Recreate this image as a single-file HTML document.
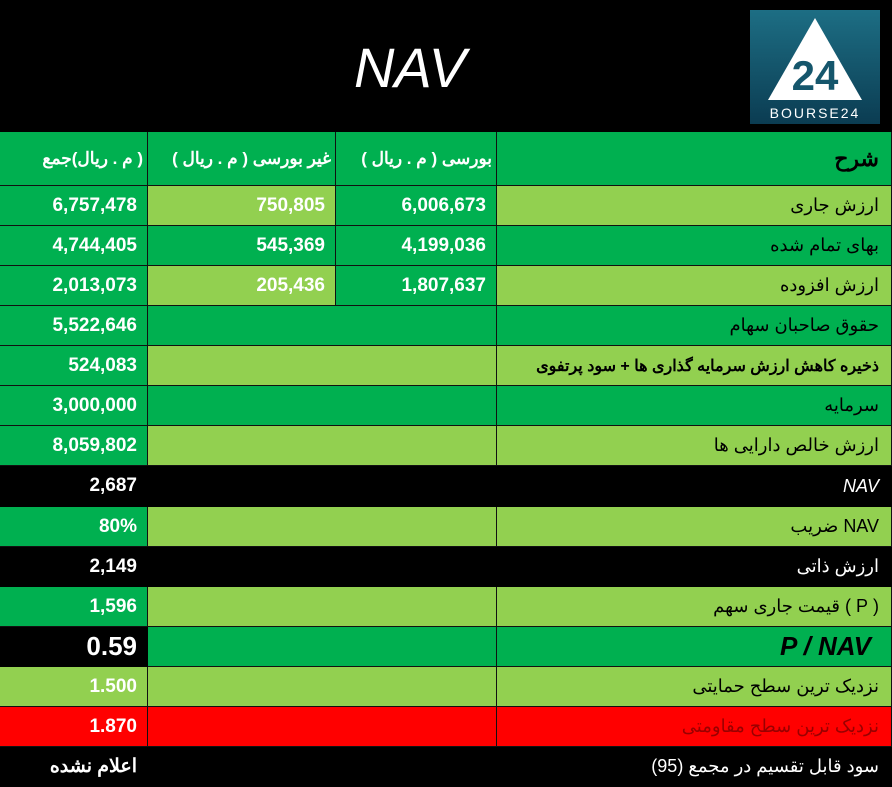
<!DOCTYPE html>
<html><head><meta charset="utf-8"><style>
body{margin:0;width:892px;height:787px;background:#000;position:relative;overflow:hidden;font-family:"Liberation Sans","Noto Sans CJK SC",sans-serif}
.c{position:absolute;box-sizing:border-box;border-right:1px solid #111;border-bottom:1px solid #111;display:flex;align-items:center;justify-content:flex-end;padding-right:10px;color:#fff;font-weight:bold;font-size:19px;white-space:nowrap}
.g{background:#00b050}.l{background:#92d050}.k{background:#000;border-color:#000}.r{background:#ff0000}
.t{color:#000;font-weight:normal;font-size:18px;padding-right:12px}
</style></head><body>
<div style="position:absolute;left:0;top:0;width:892px;height:132px;background:#000"></div>
<div style="position:absolute;left:300px;top:36px;width:220px;text-align:center;color:#fff;font-style:italic;font-size:56px;line-height:64px">NAV</div>
<div style="position:absolute;left:750px;top:10px;width:130px;height:114px;background:linear-gradient(#1d6e84,#0b3c52);">
<svg width="130" height="114"><polygon points="65,8 112,90 18,90" fill="#fff"/><text x="65" y="80" text-anchor="middle" font-size="42" font-weight="bold" fill="#15566c" font-family="Liberation Sans">24</text><text x="65" y="108" text-anchor="middle" font-size="14" fill="#fff" font-family="Liberation Sans" letter-spacing="2">BOURSE24</text></svg></div>
<div id="t"></div>
<script>
var rows=[
[132,54,['g','( م . ریال)جمع'],['g','غیر بورسی ( م . ریال )'],['g','بورسی ( م . ریال )'],['g','شرح',1]],
[186,40,['g','6,757,478'],['l','750,805'],['g','6,006,673'],['l','ارزش جاری']],
[226,40,['g','4,744,405'],['g','545,369'],['g','4,199,036'],['g','بهای تمام شده']],
[266,40,['g','2,013,073'],['l','205,436'],['g','1,807,637'],['l','ارزش افزوده']],
[306,40,['g','5,522,646'],['g','',2],null,['g','حقوق صاحبان سهام']],
[346,40,['g','524,083'],['l','',2],null,['l','ذخیره کاهش ارزش سرمایه گذاری ها + سود پرتفوی',2]],
[386,40,['g','3,000,000'],['g','',2],null,['g','سرمایه']],
[426,40,['g','8,059,802'],['l','',2],null,['l','ارزش خالص دارایی ها']],
[466,41,['k','2,687'],['k','',2],null,['k','NAV',3]],
[507,40,['g','80%'],['l','',2],null,['l','NAV ضریب']],
[547,40,['k','2,149'],['k','',2],null,['k','ارزش ذاتی',4]],
[587,40,['g','1,596'],['l','',2],null,['l','( P ) قیمت جاری سهم']],
[627,40,['k','0.59',5],['g','',2],null,['g','P / NAV',6]],
[667,40,['l','1.500'],['l','',2],null,['l','نزدیک ترین سطح حمایتی']],
[707,40,['r','1.870'],['r','',2],null,['r','نزدیک ترین سطح مقاومتی',7]],
[747,40,['k','اعلام نشده'],['k','',2],null,['k','سود قابل تقسیم در مجمع (95)',4]]];
var xs=[0,148,336,497,892],h='';
rows.forEach(function(r){for(var i=0;i<4;i++){var c=r[2+i];if(!c)continue;var w=(c[2]==2&&i==1)?xs[3]-xs[1]:xs[i+1]-xs[i];
var st='left:'+xs[i]+'px;top:'+r[0]+'px;width:'+w+'px;height:'+r[1]+'px;';var cl='c '+c[0];
if(i==3){cl+=' t';var f=c[2];if(f==1)st+='font-weight:bold;font-size:22px;';if(f==2)st+='font-weight:bold;font-size:16px;';if(f==3)st+='color:#fff;font-style:italic;';if(f==4)st+='color:#fff;';if(f==6)st+='font-weight:bold;font-style:italic;font-size:26px;padding-right:20px;';if(f==7)st+='color:#900;';}
if(i==0&&c[2]==5)st+='font-size:26px;';if(r[0]==132&&i<3)st+='font-size:17px;padding-right:4px;';
h+='<div class="'+cl+'" style="'+st+'"><span dir="rtl">'+c[1]+'</span></div>';}});
document.getElementById('t').outerHTML=h;
</script>
</body></html>
